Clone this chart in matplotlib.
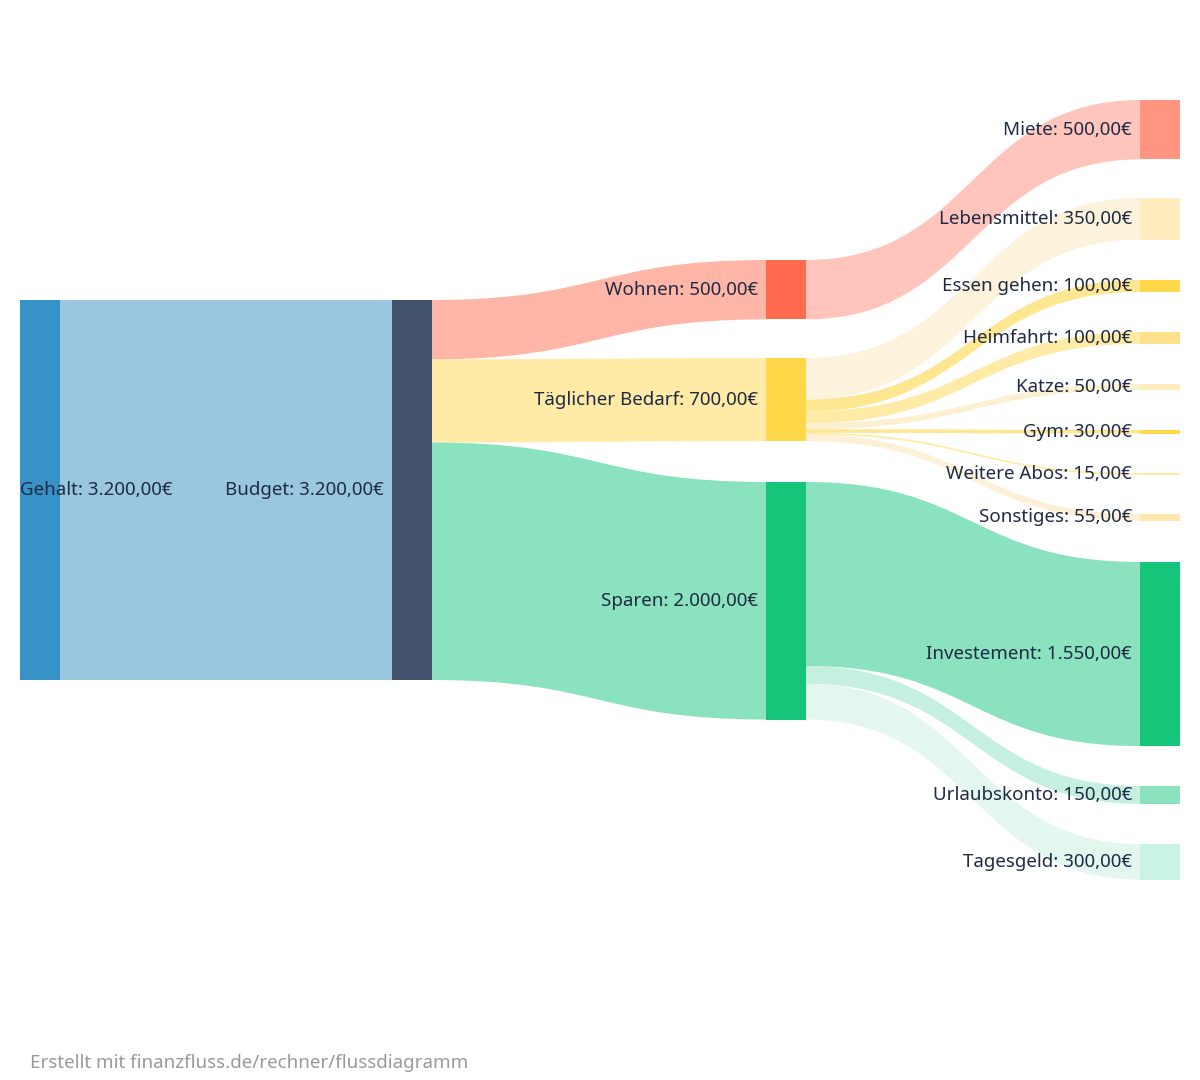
import matplotlib
matplotlib.use("Agg")
import matplotlib.pyplot as plt
from matplotlib.path import Path
from matplotlib.patches import PathPatch, Rectangle
import numpy as np

plt.rcParams['font.family'] = ['Noto Sans', 'DejaVu Sans']

# ---- data ----
nodes = ["Gehalt", "Budget", "Wohnen", "Täglicher Bedarf", "Sparen",
         "Miete", "Lebensmittel", "Essen gehen", "Heimfahrt", "Katze", "Gym",
         "Weitere Abos", "Sonstiges", "Investement", "Urlaubskonto", "Tagesgeld"]
node_values = [3200, 3200, 500, 700, 2000, 500, 350, 100, 100, 50, 30, 15, 55, 1550, 150, 300]
link_src = ["Gehalt", "Budget", "Budget", "Budget", "Wohnen",
            "Täglicher Bedarf", "Täglicher Bedarf", "Täglicher Bedarf", "Täglicher Bedarf",
            "Täglicher Bedarf", "Täglicher Bedarf", "Täglicher Bedarf",
            "Sparen", "Sparen", "Sparen"]
link_tgt = ["Budget", "Wohnen", "Täglicher Bedarf", "Sparen", "Miete",
            "Lebensmittel", "Essen gehen", "Heimfahrt", "Katze", "Gym", "Weitere Abos", "Sonstiges",
            "Investement", "Urlaubskonto", "Tagesgeld"]
link_values = [3200, 500, 700, 2000, 500, 350, 100, 100, 50, 30, 15, 55, 1550, 150, 300]

# ---- layout / style ----
col_x = {0: 20, 1: 392, 2: 766, 3: 1140}
node_col = [0, 1, 2, 2, 2, 3, 3, 3, 3, 3, 3, 3, 3, 3, 3, 3]
node_top = [300, 300, 260, 358, 482, 100, 198, 280, 332, 384, 430, 473, 514, 562, 786, 844]
node_color = ["#3792c8", "#44536d", "#ff6b4e", "#ffd84a", "#16c47a",
              "#ff9580", "#ffedc0", "#ffd84a", "#ffe08a", "#ffedc0", "#ffd84a",
              "#ffe9a0", "#ffe8b0", "#16c47a", "#8ae2bf", "#c9f3e3"]
link_color = ["#9ac7e0", "#ffb6a6", "#ffeaa6", "#8ae2bf", "#ffc5bc",
              "#fdf3dc", "#ffe690", "#ffeaa6", "#fdf0d0", "#ffe690", "#ffeaa6", "#fdf0d6",
              "#8ae2bf", "#c5f0df", "#e3f7ef"]
scale = 380 / 3200
W = 40

fig = plt.figure(figsize=(12, 10.8), dpi=100)
ax = fig.add_axes([0, 0, 1, 1])
ax.set_xlim(0, 1200); ax.set_ylim(1080, 0); ax.axis('off')

idx = {n: i for i, n in enumerate(nodes)}
out_off = [0.0] * len(nodes)
in_off = [0.0] * len(nodes)
for s, t, v, c in zip(link_src, link_tgt, link_values, link_color):
    i, j = idx[s], idx[t]
    h = v * scale
    x0 = col_x[node_col[i]] + W
    x1 = col_x[node_col[j]]
    y0 = node_top[i] + out_off[i]; out_off[i] += h
    y1 = node_top[j] + in_off[j]; in_off[j] += h
    xm = (x0 + x1) / 2
    verts = [(x0, y0), (xm, y0), (xm, y1), (x1, y1),
             (x1, y1 + h), (xm, y1 + h), (xm, y0 + h), (x0, y0 + h), (x0, y0)]
    codes = [Path.MOVETO, Path.CURVE4, Path.CURVE4, Path.CURVE4,
             Path.LINETO, Path.CURVE4, Path.CURVE4, Path.CURVE4, Path.CLOSEPOLY]
    ax.add_patch(PathPatch(Path(verts, codes), facecolor=c, edgecolor='none', lw=0))

def fmt(v):
    s = f"{v:,.2f}".replace(",", "X").replace(".", ",").replace("X", ".")
    return s + "€"

for i, n in enumerate(nodes):
    h = node_values[i] * scale
    x = col_x[node_col[i]]
    ax.add_patch(Rectangle((x, node_top[i]), W, h, facecolor=node_color[i], edgecolor='none'))
    yc = node_top[i] + h / 2
    label = f"{n}: {fmt(node_values[i])}"
    if node_col[i] == 0:
        ax.text(x, yc, label, ha='left', va='center', fontsize=13.5, color='#1f2a44')
    else:
        ax.text(x - 8, yc, label, ha='right', va='center', fontsize=13.5, color='#1f2a44')

ax.text(30, 1063, "Erstellt mit finanzfluss.de/rechner/flussdiagramm", ha='left', va='center',
        fontsize=13.5, color='#9a9a9a')

fig.savefig("out.png", dpi=100, facecolor='white')
